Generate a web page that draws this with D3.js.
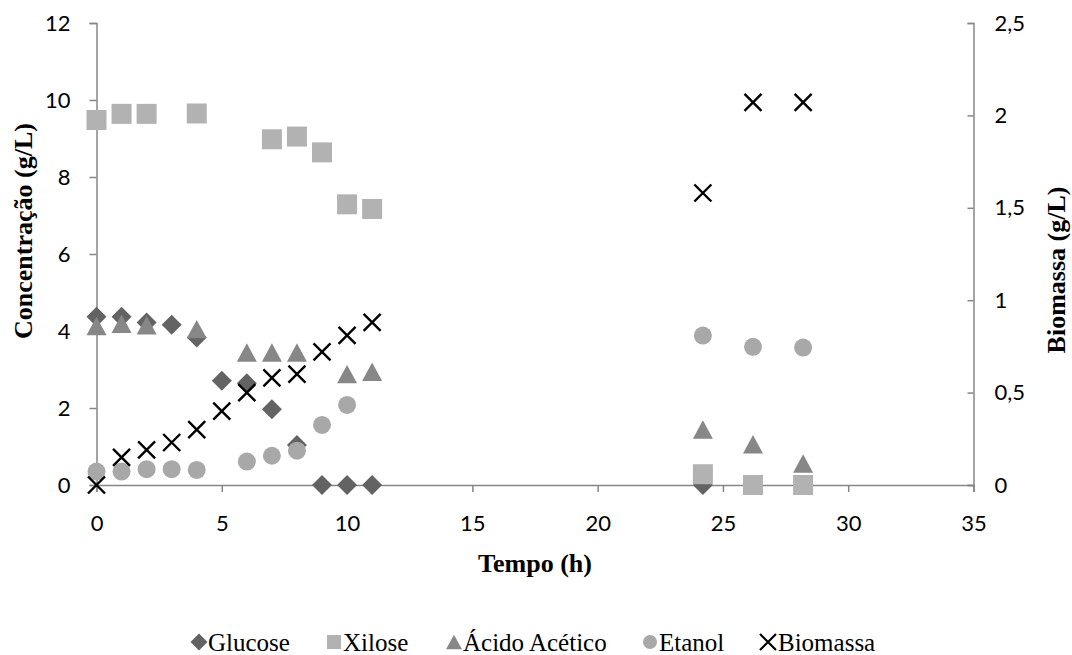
<!DOCTYPE html>
<head>
  <meta charset="utf-8">
  <script src="https://d3js.org/d3.v7.min.js"></script>
  <style>
    body { margin: 0; background: #fff; }
    .tick text { font-family: Lato, "Open Sans", sans-serif; font-size: 22px; fill: #000; }
    .axis path, .axis line { stroke: #868686; stroke-width: 1.5px; }
    .title { font-family: "Liberation Serif", serif; font-weight: bold; font-size: 26px; }
    .legend text { font-family: "Liberation Serif", serif; font-size: 25px; }
  </style>
</head>

<body>
  <script>
    // time points (h) and values
    var tGlucose = [0, 1, 2, 3, 4, 5, 6, 7, 8, 9, 10, 11, 24.2, 26.2, 28.2];
    var glucose  = [4.37, 4.37, 4.22, 4.16, 3.83, 2.71, 2.64, 1.97, 1.04, 0, 0, 0, 0, 0, 0];

    var tXilose = [0, 1, 2, 4, 7, 8, 9, 10, 11, 24.2, 26.2, 28.2];
    var xilose  = [9.48, 9.64, 9.64, 9.65, 8.98, 9.05, 8.64, 7.29, 7.17, 0.28, 0, 0];

    var tAcetico = [0, 1, 2, 4, 6, 7, 8, 10, 11, 24.2, 26.2, 28.2];
    var acetico  = [4.13, 4.19, 4.15, 4.05, 3.44, 3.44, 3.44, 2.88, 2.94, 1.44, 1.06, 0.56];

    var tEtanol = [0, 1, 2, 3, 4, 6, 7, 8, 9, 10, 24.2, 26.2, 28.2];
    var etanol  = [0.35, 0.35, 0.41, 0.41, 0.39, 0.61, 0.76, 0.89, 1.56, 2.08, 3.88, 3.59, 3.57];

    var tBiomassa = [0, 1, 2, 3, 4, 5, 6, 7, 8, 9, 10, 11, 24.2, 26.2, 28.2];
    var biomassa  = [0, 0.15, 0.19, 0.23, 0.3, 0.4, 0.5, 0.58, 0.6, 0.72, 0.81, 0.88, 1.58, 2.07, 2.07];

    var xTicks = [0, 5, 10, 15, 20, 25, 30, 35];
    var yLeftTicks = [0, 2, 4, 6, 8, 10, 12];
    var yRightTicks = [0, 0.5, 1, 1.5, 2, 2.5];

    var seriesNames = ["Glucose", "Xilose", "Ácido Acético", "Etanol", "Biomassa"];

    var width = 1072, height = 655;
    var plotLeft = 96.5, plotRight = 973.5, plotTop = 23, plotBottom = 485;

    var svg = d3.select("body").append("svg")
      .attr("width", width)
      .attr("height", height);

    var x = d3.scaleLinear().domain([0, 35]).range([plotLeft, plotRight]);
    var yL = d3.scaleLinear().domain([0, 12]).range([plotBottom, plotTop]);
    var yR = d3.scaleLinear().domain([0, 2.5]).range([plotBottom, plotTop]);

    var comma = function(d) { return String(d).replace(".", ","); };

    svg.append("g")
      .attr("class", "axis")
      .attr("transform", "translate(0," + plotBottom + ")")
      .call(d3.axisBottom(x).tickValues(xTicks).tickSizeOuter(0).tickSize(7).tickPadding(23));

    svg.append("g")
      .attr("class", "axis")
      .attr("transform", "translate(" + plotLeft + ",0)")
      .call(d3.axisLeft(yL).tickValues(yLeftTicks).tickSizeOuter(0).tickSize(7).tickPadding(19));

    var rAxis = svg.append("g")
      .attr("class", "axis")
      .attr("transform", "translate(" + plotRight + ",0)")
      .call(d3.axisRight(yR).tickValues(yRightTicks).tickFormat(comma).tickSizeOuter(0).tickSize(-6));
    rAxis.selectAll(".tick text").attr("x", 21);

    // axis titles
    svg.append("text").attr("class", "title")
      .attr("x", (plotLeft + plotRight) / 2).attr("y", 572)
      .attr("text-anchor", "middle").text("Tempo (h)");

    svg.append("text").attr("class", "title")
      .attr("transform", "translate(32,231) rotate(-90)")
      .attr("text-anchor", "middle").text("Concentração (g/L)");

    svg.append("text").attr("class", "title")
      .attr("transform", "translate(1065,270) rotate(-90)")
      .attr("text-anchor", "middle").text("Biomassa (g/L)");

    // marker shapes
    function diamond(s) { return "M0," + (-s) + "L" + s + ",0L0," + s + "L" + (-s) + ",0Z"; }
    function square(s) { return "M" + (-s) + "," + (-s) + "h" + (2 * s) + "v" + (2 * s) + "h" + (-2 * s) + "Z"; }
    function triangle(s) { return "M0," + (-s * 0.92) + "L" + s + "," + (s * 0.92) + "L" + (-s) + "," + (s * 0.92) + "Z"; }
    function circle(s) { return d3.arc()({innerRadius: 0, outerRadius: s, startAngle: 0, endAngle: 2 * Math.PI}); }
    function cross(s) { return "M" + (-s) + "," + (-s) + "L" + s + "," + s + "M" + s + "," + (-s) + "L" + (-s) + "," + s; }

    var styles = [
      {shape: diamond, size: 10, legend: 8.5, fill: "#636363"},
      {shape: square, size: 10, legend: 7, fill: "#b2b2b2"},
      {shape: triangle, size: 10, legend: 8, fill: "#878787"},
      {shape: circle, size: 9, legend: 7, fill: "#a8a8a8"},
      {shape: cross, size: 8.5, legend: 8, fill: "none", stroke: "#000"}
    ];

    var series = [
      {t: tGlucose, v: glucose, y: yL},
      {t: tXilose, v: xilose, y: yL},
      {t: tAcetico, v: acetico, y: yL},
      {t: tEtanol, v: etanol, y: yL},
      {t: tBiomassa, v: biomassa, y: yR}
    ];

    series.forEach(function(s, i) {
      var st = styles[i];
      var pts = s.t.map(function(t, j) { return [t, s.v[j]]; });
      svg.append("g").selectAll("path")
        .data(pts)
        .enter().append("path")
        .attr("transform", function(d) { return "translate(" + x(d[0]) + "," + s.y(d[1]) + ")"; })
        .attr("d", st.shape(st.size))
        .attr("fill", st.fill)
        .attr("stroke", st.stroke || "none")
        .attr("stroke-width", 2.4);
    });

    // legend
    var legendX = [199, 334, 454, 650, 768];
    var legend = svg.append("g").attr("class", "legend");
    seriesNames.forEach(function(name, i) {
      var st = styles[i];
      var g = legend.append("g").attr("transform", "translate(" + legendX[i] + ",642)");
      g.append("path")
        .attr("d", st.shape(st.legend))
        .attr("fill", st.fill)
        .attr("stroke", st.stroke || "none")
        .attr("stroke-width", 2.2);
      g.append("text")
        .attr("x", i === 4 ? 10 : 9)
        .attr("y", 9)
        .text(name);
    });
  </script>
</body>
